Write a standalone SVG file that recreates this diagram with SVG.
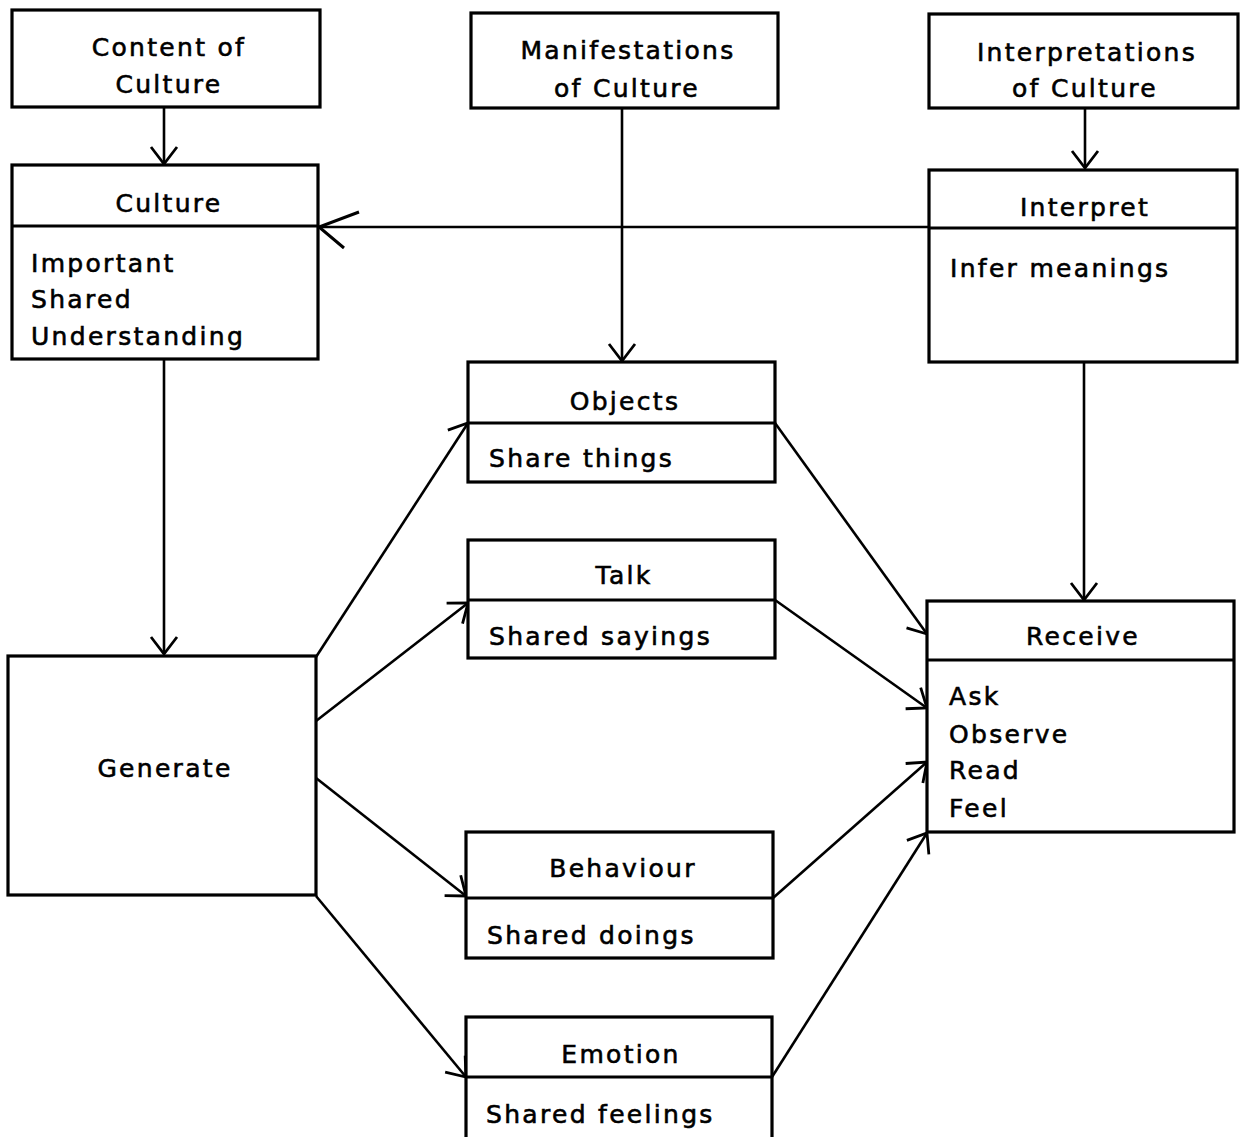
<svg xmlns="http://www.w3.org/2000/svg" width="1245" height="1137" viewBox="0 0 1245 1137">
<defs>
<marker id="arr" markerUnits="userSpaceOnUse" markerWidth="40" markerHeight="40" refX="0" refY="0" viewBox="-20 -20 40 40" orient="auto" overflow="visible">
<path d="M-17,-13 L0,0 L-17,13" fill="none" stroke="#000" stroke-width="2.8" stroke-linejoin="miter"/>
</marker>
<marker id="arrBig" markerUnits="userSpaceOnUse" markerWidth="60" markerHeight="60" refX="0" refY="0" viewBox="-30 -30 60 60" orient="auto" overflow="visible">
<path d="M-40,15 L0,0 L-25,-21" fill="none" stroke="#000" stroke-width="3" stroke-linejoin="miter"/>
</marker>
<style>
.box{fill:#fff;stroke:#000;stroke-width:3.2}
.div{stroke:#000;stroke-width:2.8}
.t{font-family:"DejaVu Sans","Liberation Sans",sans-serif;font-size:25px;letter-spacing:2.3px;fill:#000;stroke:#000;stroke-width:0.6}
.c{text-anchor:middle}
.con{fill:none;stroke:#000;stroke-width:2.6;marker-end:url(#arr)}
.big{marker-end:url(#arrBig)}
</style>
</defs>
<rect width="1245" height="1137" fill="#fff"/>
<g id="connectors">
<line class="con" x1="164" y1="107" x2="164" y2="164"/>
<line class="con" x1="622" y1="108" x2="622" y2="361"/>
<line class="con" x1="1085" y1="108" x2="1085" y2="168"/>
<line class="con big" x1="929" y1="227" x2="319" y2="227"/>
<line class="con" x1="164" y1="359" x2="164" y2="654"/>
<line class="con" x1="1084" y1="362" x2="1084" y2="600"/>
<line class="con" x1="316" y1="657" x2="468" y2="423"/>
<line class="con" x1="316" y1="721" x2="468" y2="603"/>
<line class="con" x1="316" y1="778" x2="466" y2="896"/>
<line class="con" x1="316" y1="896" x2="466" y2="1077"/>
<line class="con" x1="775" y1="423" x2="927" y2="634"/>
<line class="con" x1="775" y1="600" x2="927" y2="708"/>
<line class="con" x1="773" y1="898" x2="927" y2="762"/>
<line class="con" x1="772" y1="1077" x2="927" y2="833"/>
</g>
<g id="content-of-culture">
<rect class="box" x="12" y="10" width="308" height="97"/>
<text class="t c" x="169" y="56">Content of</text>
<text class="t c" x="169" y="93">Culture</text>
</g>
<g id="manifestations-of-culture">
<rect class="box" x="471" y="13" width="307" height="95"/>
<text class="t c" x="628" y="59">Manifestations</text>
<text class="t c" x="627" y="97">of Culture</text>
</g>
<g id="interpretations-of-culture">
<rect class="box" x="929" y="14" width="309" height="94"/>
<text class="t c" x="1087" y="61">Interpretations</text>
<text class="t c" x="1085" y="97">of Culture</text>
</g>
<g id="culture">
<rect class="box" x="12" y="165" width="306" height="194"/>
<line class="div" x1="12" y1="226" x2="318" y2="226"/>
<text class="t c" x="169" y="212">Culture</text>
<text class="t" x="31" y="272">Important</text>
<text class="t" x="31" y="308">Shared</text>
<text class="t" x="31" y="345">Understanding</text>
</g>
<g id="interpret">
<rect class="box" x="929" y="170" width="308" height="192"/>
<line class="div" x1="929" y1="228" x2="1237" y2="228"/>
<text class="t c" x="1085" y="216">Interpret</text>
<text class="t" x="950" y="277">Infer meanings</text>
</g>
<g id="generate">
<rect class="box" x="8" y="656" width="308" height="239"/>
<text class="t c" x="165" y="777">Generate</text>
</g>
<g id="objects">
<rect class="box" x="468" y="362" width="307" height="120"/>
<line class="div" x1="468" y1="423" x2="775" y2="423"/>
<text class="t c" x="625" y="410">Objects</text>
<text class="t" x="489" y="467">Share things</text>
</g>
<g id="talk">
<rect class="box" x="468" y="540" width="307" height="118"/>
<line class="div" x1="468" y1="600" x2="775" y2="600"/>
<text class="t c" x="624" y="584">Talk</text>
<text class="t" x="489" y="645">Shared sayings</text>
</g>
<g id="behaviour">
<rect class="box" x="466" y="832" width="307" height="126"/>
<line class="div" x1="466" y1="898" x2="773" y2="898"/>
<text class="t c" x="623" y="877">Behaviour</text>
<text class="t" x="487" y="944">Shared doings</text>
</g>
<g id="emotion">
<rect class="box" x="466" y="1017" width="306" height="140"/>
<line class="div" x1="466" y1="1077" x2="772" y2="1077"/>
<text class="t c" x="621" y="1063">Emotion</text>
<text class="t" x="486" y="1123">Shared feelings</text>
</g>
<g id="receive">
<rect class="box" x="927" y="601" width="307" height="231"/>
<line class="div" x1="927" y1="660" x2="1234" y2="660"/>
<text class="t c" x="1083" y="645">Receive</text>
<text class="t" x="949" y="705">Ask</text>
<text class="t" x="949" y="743">Observe</text>
<text class="t" x="949" y="779">Read</text>
<text class="t" x="949" y="817">Feel</text>
</g>
</svg>
